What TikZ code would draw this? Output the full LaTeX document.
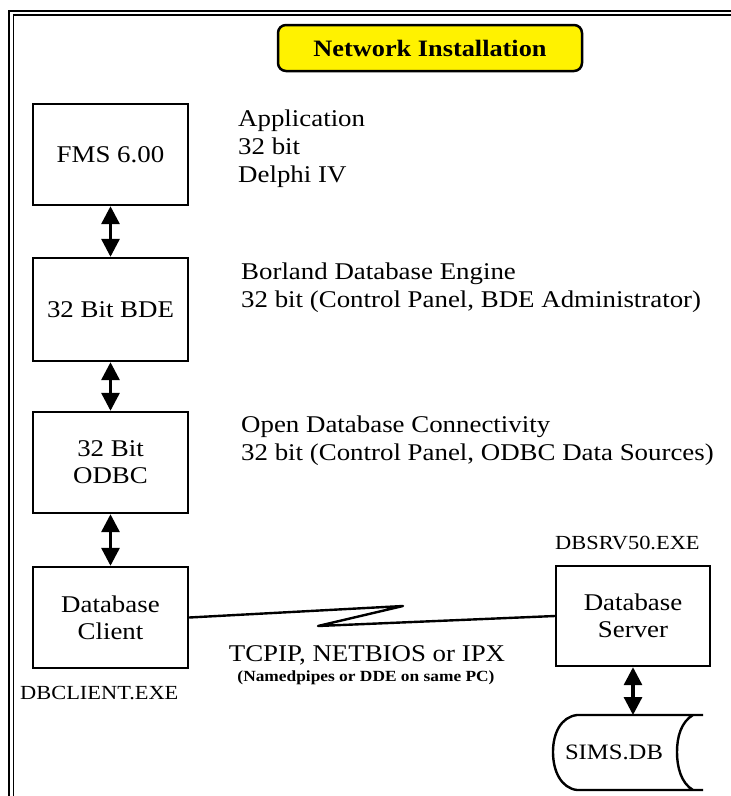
\documentclass[tikz,border=0pt]{standalone}
\usepackage{fontspec}
\setmainfont{Liberation Serif}[FakeStretch=1.12]
\usetikzlibrary{arrows.meta}
\begin{document}
\begin{tikzpicture}[x=1pt,y=-1pt,
  box/.style={draw,line width=2.4pt,minimum width=155pt,minimum height=101pt,inner sep=0pt,align=center,font=\fontsize{24}{27}\selectfont},
  side/.style={anchor=north west,inner sep=0pt,align=left,font=\fontsize{24}{28}\selectfont},
  dbl/.style={line width=3.2pt,{Triangle[width=18pt,length=18pt]}-{Triangle[width=18pt,length=18pt]}},
  small/.style={inner sep=0pt,font=\fontsize{20}{22}\selectfont}]
\useasboundingbox (0,0) rectangle (731,796);
% frame
\draw[line width=2.5pt] (9,796) -- (9,11) -- (731,11);
\draw[line width=1.8pt] (13.5,796) -- (13.5,15.2) -- (731,15.2);
% title
\node[draw,line width=2.5pt,fill=yellow,rounded corners=8pt,minimum width=304pt,minimum height=46pt,inner sep=0pt,font=\fontsize{23.5}{25}\selectfont\bfseries] (title) at (430,48) {Network Installation};
% stack
\node[box] (fms) at (110.5,154.5) {FMS 6.00};
\node[box,minimum height=103pt] (bde) at (110.5,309.5) {32 Bit BDE};
\node[box] (odbc) at (110.5,462.5) {32 Bit\\ODBC};
\node[box] (client) at (110.5,617.5) {Database\\Client};
\node[box,minimum width=154pt,minimum height=100pt] (server) at (633,616) {Database\\Server};
\draw[dbl] (fms.south) -- (bde.north);
\draw[dbl] (bde.south) -- (odbc.north);
\draw[dbl] (odbc.south) -- (client.north);
% side texts
\node[side] (app) at (238,110) {Application\\32 bit\\Delphi IV};
\node[side] (bdetxt) at (241,262.5) {Borland Database Engine\\32 bit (Control Panel, BDE Administrator)};
\node[side] (odbctxt) at (241,415.5) {Open Database Connectivity\\32 bit (Control Panel, ODBC Data Sources)};
% exe names
\node[small,anchor=west] (srvexe) at (555,543) {DBSRV50.EXE};
\node[small,anchor=west] (cliexe) at (20,693) {DBCLIENT.EXE};
% network link
\coordinate (zA) at (403,606);
\coordinate (zB) at (318,626);
\draw[line width=2.4pt,line join=round] (client.east) -- (zA) -- (zB) -- (server.west);
\node[inner sep=0pt,font=\fontsize{24}{26}\selectfont] (tcp) at (367,655) {TCPIP, NETBIOS or IPX};
\node[inner sep=0pt,font=\fontsize{15.5}{17}\selectfont\bfseries] (named) at (366,678) {(Namedpipes or DDE on same PC)};
% database store
\draw[line width=2.4pt] (577,715) -- (703,715)
  (577,790) -- (703,790)
  (577,715) .. controls (561,717) and (553,733) .. (553,752) .. controls (553,771) and (561,788) .. (577,790)
  (693,715) .. controls (681,722) and (677,737) .. (677,752) .. controls (677,767) and (681,783) .. (693,790);
\node[inner sep=0pt,font=\fontsize{22}{24}\selectfont] (sims) at (614,752) {SIMS.DB};
\coordinate (simstop) at (633,715);
\draw[dbl] (server.south) -- (simstop);
\end{tikzpicture}
\end{document}
